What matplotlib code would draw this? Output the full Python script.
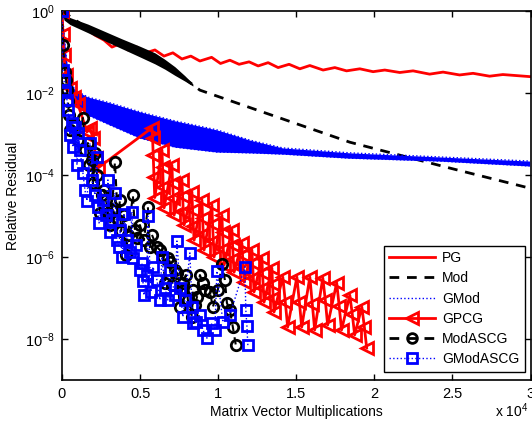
import numpy as np
import matplotlib
matplotlib.use("Agg")
import matplotlib.pyplot as plt
from matplotlib.lines import Line2D

plt.rcParams['font.family'] = ['Liberation Sans', 'DejaVu Sans']
plt.rcParams['mathtext.default'] = 'regular'

# x values in units of 10^4 matrix-vector multiplications, y as log10(relative residual)
pg_x = [0.000, 0.051, 0.147, 0.211, 0.269, 0.320, 0.371, 0.422, 0.480, 0.537, 0.595, 0.653, 0.710,
        0.768, 0.825, 0.883, 0.958, 1.015, 1.075, 1.134, 1.198, 1.256, 1.320, 1.384, 1.454, 1.523,
        1.587, 1.672, 1.747, 1.822, 1.907, 1.992, 2.067, 2.163, 2.248, 2.354, 2.440, 2.546, 2.632,
        2.738, 2.823, 2.994]
pg_log = [0.00, -0.22, -0.41, -0.59, -0.71, -0.88, -0.80, -0.95, -0.88, -1.02, -0.95, -1.10, -1.02,
          -1.17, -1.10, -1.22, -1.13, -1.28, -1.20, -1.30, -1.24, -1.34, -1.26, -1.38, -1.30, -1.41,
          -1.33, -1.44, -1.38, -1.46, -1.41, -1.48, -1.44, -1.50, -1.46, -1.54, -1.49, -1.56, -1.52,
          -1.59, -1.55, -1.60]

# Mod: oscillating band at start (upper / lower envelopes) and the smooth dashed curve
mod_band_x = [0.000, 0.013, 0.051, 0.166, 0.275, 0.384, 0.499, 0.595, 0.659, 0.723, 0.787, 0.838]
mod_band_hi = [0.00, -0.05, -0.16, -0.32, -0.50, -0.68, -0.86, -1.02, -1.18, -1.36, -1.58, -1.78]
mod_band_lo = [0.00, -0.22, -0.33, -0.53, -0.73, -0.92, -1.12, -1.29, -1.42, -1.57, -1.71, -1.83]
mod_x = [0.000, 0.166, 0.384, 0.595, 0.723, 0.838, 0.883, 1.267, 1.843, 2.035, 2.482, 2.994]
mod_log = [0.00, -0.43, -0.80, -1.15, -1.46, -1.80, -1.93, -2.44, -3.20, -3.39, -3.83, -4.32]

# GMod: dense oscillation, upper / lower envelopes
gmod_x = [0.000, 0.006, 0.019, 0.032, 0.051, 0.083, 0.166, 0.307, 0.499, 0.723, 0.992, 1.203,
          1.414, 1.843, 2.418, 2.994]
gmod_hi = [0.00, -0.22, -0.83, -1.32, -1.68, -1.93, -2.10, -2.24, -2.46, -2.68, -2.90, -3.15,
           -3.34, -3.46, -3.56, -3.66]
gmod_lo = [0.00, -0.46, -1.44, -1.80, -2.05, -2.29, -2.54, -2.78, -3.10, -3.32, -3.44, -3.46,
           -3.49, -3.59, -3.66, -3.78]

gpcg_x = [0.000, 0.006, 0.010, 0.026, 0.051, 0.077, 0.102, 0.160, 0.179, 0.198, 0.218, 0.230,
          0.576, 0.580, 0.584, 0.589, 0.594,
          0.640, 0.644, 0.649, 0.654,
          0.704, 0.708, 0.713, 0.718,
          0.768, 0.772, 0.777, 0.782,
          0.832, 0.836, 0.841, 0.846,
          0.896, 0.900, 0.905, 0.910,
          0.960, 0.964, 0.969, 0.974,
          1.024, 1.028, 1.033, 1.038,
          1.088, 1.092, 1.097, 1.102,
          1.152, 1.156, 1.161, 1.166,
          1.216, 1.220, 1.225, 1.230,
          1.280, 1.284, 1.289, 1.294,
          1.344, 1.348, 1.353, 1.358,
          1.414, 1.430, 1.445,
          1.504, 1.520, 1.535,
          1.587, 1.603, 1.618,
          1.670, 1.686, 1.701,
          1.759, 1.775, 1.790,
          1.843, 1.859, 1.874,
          1.920, 1.936, 1.951]
gpcg_log = [0.00, -0.56, -1.07, -1.56, -1.88, -2.10, -2.27, -2.95, -2.85, -3.10, -3.59, -3.83,
            -2.85, -3.10, -3.50, -4.05, -4.55,
            -3.39, -3.80, -4.30, -4.80,
            -3.76, -4.20, -4.55, -4.98,
            -4.12, -4.50, -4.90, -5.22,
            -4.41, -4.85, -5.25, -5.59,
            -4.61, -5.05, -5.45, -5.83,
            -4.73, -5.20, -5.60, -6.00,
            -4.98, -5.40, -5.80, -6.20,
            -5.34, -5.70, -6.05, -6.37,
            -5.66, -5.95, -6.30, -6.61,
            -5.83, -6.15, -6.50, -6.85,
            -6.02, -6.40, -6.75, -7.10,
            -6.27, -6.65, -7.00, -7.34,
            -6.49, -7.10, -7.71,
            -6.49, -7.10, -7.71,
            -6.49, -7.15, -7.78,
            -6.51, -7.05, -7.66,
            -6.63, -7.20, -7.78,
            -6.93, -7.40, -7.90,
            -7.22, -7.70, -8.22]

modascg_x = [0.000, 0.006, 0.019, 0.026, 0.032, 0.038, 0.045, 0.051, 0.077, 0.102, 0.134, 0.147,
             0.166, 0.173, 0.192, 0.198, 0.211, 0.224, 0.243, 0.256, 0.269, 0.282, 0.294, 0.307,
             0.320, 0.339, 0.358, 0.371, 0.377, 0.397, 0.409, 0.422, 0.454, 0.467, 0.480, 0.499,
             0.525, 0.550, 0.563, 0.576, 0.608, 0.627, 0.646, 0.659, 0.678, 0.691, 0.704, 0.723,
             0.736, 0.755, 0.768, 0.774, 0.793, 0.806, 0.832, 0.838, 0.851, 0.864, 0.883, 0.902,
             0.915, 0.947, 0.966, 0.998, 1.024, 1.043, 1.056, 1.075, 1.094, 1.113]
modascg_log = [0.00, -0.83, -1.49, -1.68, -1.93, -2.20, -2.54, -2.90, -2.78, -3.15, -2.61, -3.39,
               -3.22, -3.76, -3.63, -4.20, -3.46, -4.00, -4.93, -4.49, -4.37, -4.61, -4.93, -5.22,
               -4.85, -3.68, -5.10, -4.61, -5.37, -4.98, -5.95, -5.46, -4.49, -5.34, -5.54, -5.22,
               -5.59, -4.78, -5.76, -5.46, -5.76, -5.83, -6.00, -6.63, -6.02, -6.12, -6.68, -6.32,
               -6.39, -7.22, -6.80, -6.63, -6.44, -7.05, -7.46, -6.80, -7.17, -6.98, -6.44, -6.63,
               -6.80, -6.85, -7.22, -6.80, -6.17, -6.56, -7.12, -7.29, -7.71, -8.15]

gmodascg_x = [0.000, 0.006, 0.013, 0.019, 0.032, 0.038, 0.051, 0.064, 0.070, 0.083, 0.096, 0.102,
              0.115, 0.134, 0.147, 0.160, 0.179, 0.192, 0.211, 0.224, 0.230, 0.237, 0.262, 0.282,
              0.294, 0.307, 0.320, 0.339, 0.352, 0.365, 0.371, 0.384, 0.397, 0.416, 0.435, 0.448,
              0.454, 0.473, 0.499, 0.512, 0.518, 0.525, 0.544, 0.550, 0.569, 0.582, 0.608, 0.627,
              0.640, 0.659, 0.678, 0.691, 0.723, 0.736, 0.755, 0.774, 0.787, 0.819, 0.832, 0.838,
              0.857, 0.883, 0.902, 0.928, 0.960, 0.979, 0.992, 1.030, 1.075, 1.171, 1.177, 1.184,
              1.190]
gmodascg_log = [0.00, -1.44, -1.68, -1.98, -2.17, -2.41, -3.02, -2.73, -3.32, -2.83, -3.76, -2.98,
                -3.39, -3.95, -4.37, -4.63, -3.22, -4.12, -4.49, -3.56, -4.78, -5.17, -4.61, -4.98,
                -4.12, -5.39, -5.10, -4.44, -5.59, -5.76, -5.34, -6.00, -4.95, -5.59, -5.88, -4.90,
                -6.02, -5.71, -6.32, -6.15, -6.59, -6.93, -6.44, -5.00, -6.85, -6.24, -6.56, -7.05,
                -6.00, -6.76, -7.05, -6.32, -6.93, -5.61, -6.76, -7.46, -7.05, -5.90, -7.22, -7.61,
                -7.59, -7.41, -7.78, -7.98, -7.61, -7.78, -6.34, -7.59, -7.41, -6.24, -7.29, -7.68,
                -8.15]

x_ticks = [0, 0.5, 1, 1.5, 2, 2.5, 3]
x_ticklabels = ['0', '0.5', '1', '1.5', '2', '2.5', '3']
y_ticks = [1e-8, 1e-6, 1e-4, 1e-2, 1e0]
y_ticklabels = [r'$10^{-8}$', r'$10^{-6}$', r'$10^{-4}$', r'$10^{-2}$', r'$10^{0}$']

def p(v):
    return np.power(10.0, np.asarray(v))

fig = plt.figure(figsize=(5.32, 4.26), dpi=100)
ax = fig.add_axes([62/532, 1-380/426, 468.5/532, 369/426])

red = '#ff0000'
blue = '#0000ff'

ax.plot(pg_x, p(pg_log), color=red, lw=2.0, label='PG', zorder=2)

ax.fill_between(mod_band_x, p(mod_band_lo), p(mod_band_hi), color='k', lw=0, zorder=3)
ax.plot(mod_x, p(mod_log), color='k', lw=2.0, dashes=(3.5, 2.8), label='Mod', zorder=3)

ax.fill_between(gmod_x, p(gmod_lo), p(gmod_hi), color=blue, lw=0, zorder=4)
ax.plot(gmod_x, p(gmod_hi), color=blue, lw=1.0, ls=':', zorder=4)
ax.plot(gmod_x, p(gmod_lo), color=blue, lw=1.0, ls=':', label='GMod', zorder=4)

ax.plot(gpcg_x, p(gpcg_log), color=red, lw=2.0, marker='<', ms=8, mfc='none', mew=2.0,
        label='GPCG', zorder=5)
ax.plot(modascg_x, p(modascg_log), color='k', lw=1.5, dashes=(3.5, 2.8), marker='o', ms=7.5,
        mfc='none', mew=2.0, label='ModASCG', zorder=6)
ax.plot(gmodascg_x, p(gmodascg_log), color=blue, lw=1.0, ls=':', marker='s', ms=7,
        mfc='none', mew=2.0, label='GModASCG', zorder=7)

ax.set_yscale('log')
ax.set_xlim(0, 3)
ax.set_ylim(1e-9, 1e0)
ax.set_xticks(x_ticks)
ax.set_xticklabels(x_ticklabels)
ax.set_yticks(y_ticks)
ax.set_yticklabels(y_ticklabels)
ax.yaxis.set_minor_locator(matplotlib.ticker.NullLocator())
ax.tick_params(direction='in', top=True, right=True, length=4, width=1.0, labelsize=10.5,
               colors='k', pad=5)
for s in ax.spines.values():
    s.set_linewidth(1.2)

ax.set_xlabel('Matrix Vector Multiplications', fontsize=10, labelpad=3)
ax.set_ylabel('Relative Residual', fontsize=10, labelpad=4)
fig.text(528/532, 1-417/426, r'x $10^{4}$', ha='right', va='baseline', fontsize=10)

handles = [Line2D([], [], color=red, lw=2.0),
           Line2D([], [], color='k', lw=2.0, dashes=(3.5, 2.8)),
           Line2D([], [], color=blue, lw=1.0, ls=':'),
           Line2D([], [], color=red, lw=2.0, marker='<', ms=8, mfc='none', mew=2.0),
           Line2D([], [], color='k', lw=2.0, dashes=(3.5, 2.8), marker='o', ms=7, mfc='none', mew=2.0),
           Line2D([], [], color=blue, lw=1.0, ls=':', marker='s', ms=6.5, mfc='none', mew=2.0)]
labels = ['PG', 'Mod', 'GMod', 'GPCG', 'ModASCG', 'GModASCG']
leg = ax.legend(handles, labels, loc='lower right', bbox_to_anchor=(0.988, 0.022),
                borderaxespad=0, fontsize=10, numpoints=1, handlelength=3.3,
                labelspacing=0.45, fancybox=False, framealpha=1, edgecolor='k',
                borderpad=0.4, handletextpad=0.5)
leg.get_frame().set_linewidth(1.0)
leg.set_zorder(10)

fig.savefig('out.png', dpi=100)
